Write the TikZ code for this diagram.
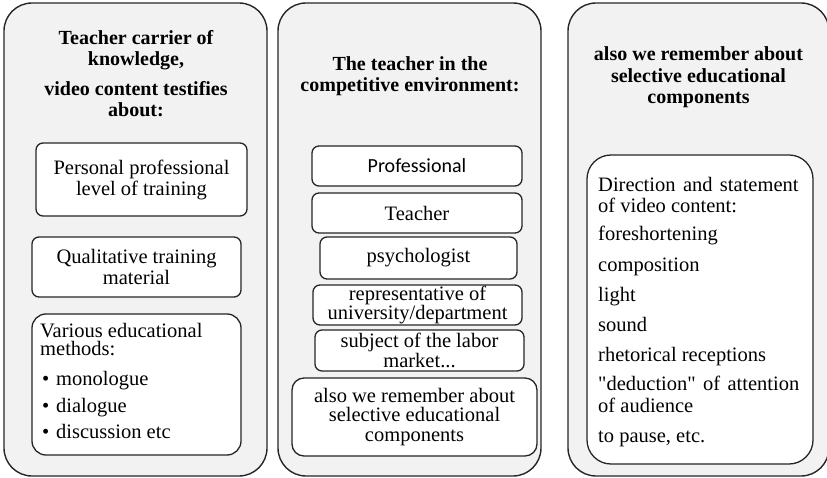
\documentclass[tikz,border=0pt]{standalone}
\usepackage{fontspec}
\setmainfont{Liberation Serif}[Ligatures=TeXOff]
\newfontfamily\labelsans{Carlito}
\definecolor{panelfill}{HTML}{F2F2F2}
\definecolor{edge}{HTML}{262626}
\newcommand\bodyfont{\fontsize{20.5bp}{21bp}\selectfont}
\newcommand\tightfont{\fontsize{20.5bp}{18.5bp}\selectfont}
\newcommand\headfont{\fontsize{20bp}{21.5bp}\selectfont\bfseries}
\newcommand\listfont{\fontsize{20.5bp}{21.5bp}\selectfont}
\newcommand\widespaces{\spaceskip=0.36em plus 0.1em\relax}
\tikzset{
  panel/.style={draw=edge, line width=1.4bp, fill=panelfill, rounded corners=28bp, inner sep=0pt},
  card/.style={draw=edge, line width=1.3bp, fill=white, rounded corners=7bp, inner sep=0pt, align=center, font=\bodyfont},
  heading/.style={align=center, inner sep=0pt, font=\headfont, anchor=north},
  listtext/.style={align=left, inner sep=0pt, anchor=north west},
}
\begin{document}
\begin{tikzpicture}[x=1bp, y=-1bp]
\useasboundingbox (0,0) rectangle (827,478);

% three columns
\node[panel, minimum width=263bp, minimum height=473bp] (left) at (135.5,239.5) {};
\node[panel, minimum width=263bp, minimum height=473bp] (middle) at (409.5,239.5) {};
\node[panel, minimum width=261bp, minimum height=473bp] (right) at (698.5,239.5) {};

% column headings (placed by their top edge)
\node[heading] (lefthead) at (136,30.2) {Teacher carrier of\\knowledge,\\[8bp]video content testifies\\about:};
\node[heading] (midhead) at (410,56.2) {The teacher in the\\competitive environment:};
\node[heading] (righthead) at (698.5,46.5) {also we remember about\\selective educational\\components};

% left column
\node[card, minimum width=211bp, minimum height=73bp] (personal) at (141.5,179.5) {Personal professional\\level of training};
\node[card, minimum width=209bp, minimum height=60bp] (material) at (136.5,267) {Qualitative training\\material};
\node[card, rounded corners=14bp, minimum width=209bp, minimum height=141bp] (methods) at (136.5,384.5) {};
\node[listtext, font=\tightfont] (methodlist) at (40,323) {Various educational\\methods:\\[11.5bp]
  \hspace*{2bp}\makebox[14bp][l]{\textbullet}monologue\\[6.5bp]
  \hspace*{2bp}\makebox[14bp][l]{\textbullet}dialogue\\[6.5bp]
  \hspace*{2bp}\makebox[14bp][l]{\textbullet}discussion etc};

% middle column
\node[card, minimum width=210bp, minimum height=40bp, font=\labelsans\fontsize{20bp}{21bp}\selectfont] (professional) at (417,166) {Professional};
\node[card, minimum width=210bp, minimum height=40bp] (teacher) at (417,213) {Teacher};
\node[card, minimum width=197bp, minimum height=42bp] (psychologist) at (418.5,258) {psychologist};
\node[card, minimum width=209bp, minimum height=40bp, font=\tightfont] (representative) at (417.5,305) {representative of\\university/department};
\node[card, minimum width=209bp, minimum height=41bp, font=\tightfont] (subject) at (419.5,350.5) {subject of the labor\\market...};
\node[card, rounded corners=12bp, minimum width=245bp, minimum height=78bp, font=\fontsize{20.5bp}{19.5bp}\selectfont] (selective) at (414.5,417) {also we remember about\\selective educational\\components};

% right column
\node[card, rounded corners=24bp, minimum width=226bp, minimum height=309bp] (direction) at (700,309.5) {};
\node[listtext, font=\listfont] (directionlist) at (598,177) {{\widespaces Direction and statement}\\of video content:\\[6.5bp]
  foreshortening\\[9bp]
  composition\\[8.5bp]
  light\\[8.5bp]
  sound\\[8.5bp]
  rhetorical receptions\\[8bp]
  {\widespaces "deduction" of attention}\\
  of audience\\[8.5bp]
  to pause, etc.};
\end{tikzpicture}
\end{document}
